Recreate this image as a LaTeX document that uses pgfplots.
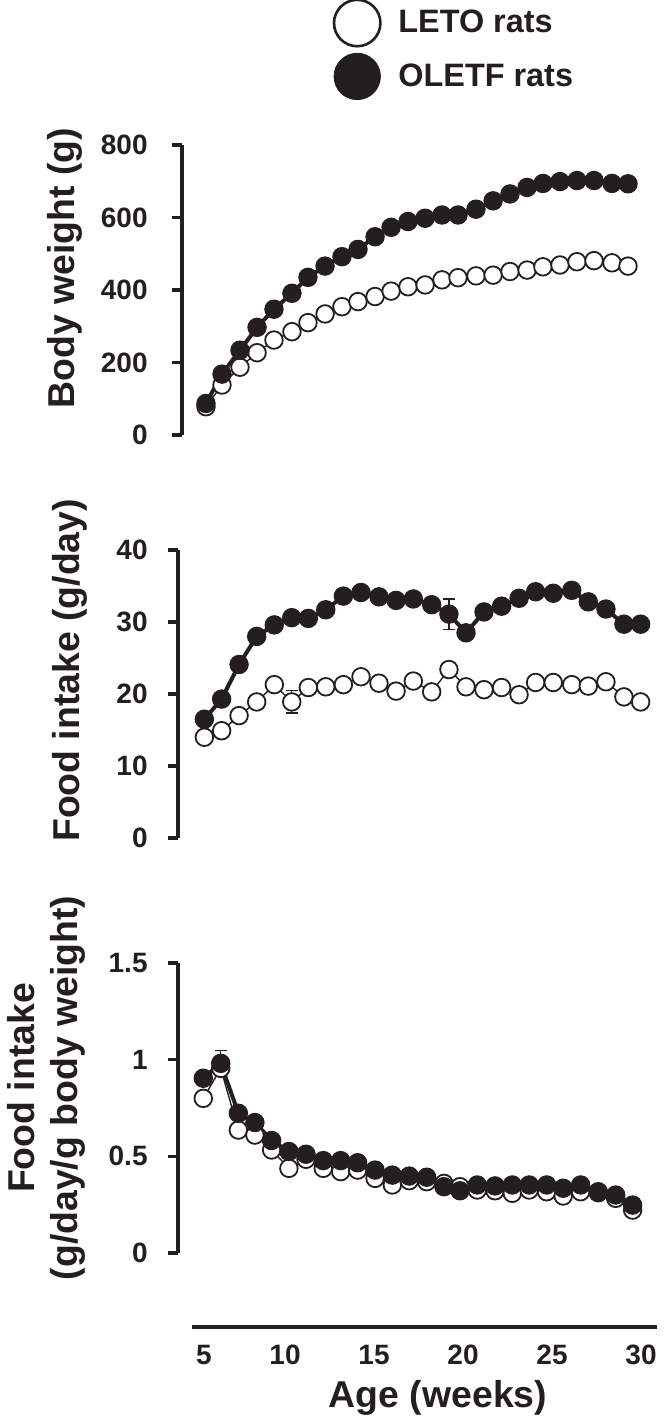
\documentclass[border=0pt]{standalone}
\usepackage{fontspec}
\setmainfont{Liberation Sans}
\usepackage{pgfplots}
\pgfplotsset{compat=1.18}
\definecolor{ink}{RGB}{35,31,32}

\pgfplotsset{
 panel/.style={
  axis y line=left, axis x line=none,
  axis line style={-, line width=1.6pt, color=ink},
  x=8.9pt, xmax=31,
  anchor=south west,
  clip=false,
  tick align=outside,
  major tick length=5pt,
  ytick style={line width=1.6pt, color=ink},
  yticklabel style={font=\fontsize{14}{16}\selectfont\bfseries, text=ink, inner sep=0pt},
  /pgf/number format/assume math mode=true,
  ylabel style={font=\fontsize{18.7}{21.5}\selectfont\bfseries, text=ink, anchor=center, align=center},
 },
 oletf/.style={color=ink, line width=2pt, mark=*, mark size=4.6pt, mark options={fill=ink, draw=ink, line width=0.5pt}},
 leto/.style={color=ink, line width=0.7pt, mark=*, mark size=4.4pt, mark options={fill=white, draw=ink, line width=0.9pt}},
 ebar/.style={draw=none, mark=none, forget plot, error bars/.cd, y dir=both, y explicit, error bar style={line width=0.7pt, color=ink}, error mark options={rotate=90, mark size=3pt, line width=0.7pt, color=ink}},
}

\begin{document}
\begin{tikzpicture}
\useasboundingbox (0pt,0pt) rectangle (334.5pt,-710pt);

% ---------- Panel 1: body weight ----------
\begin{axis}[panel, at={(91pt,-217.5pt)}, xmin=4.213, ymin=0, ymax=800, y=0.18125pt,
  ytick={0,200,400,600,800}, yticklabel style={xshift=-12pt},
  ylabel={Body weight (g)}, ylabel style={at={(axis description cs:-0.245,0.576)}},
  legend style={at={(axis description cs:0.318,1.502)}, anchor=north west, draw=none, fill=none,
    inner sep=0pt, row sep=3.5pt, column sep=7pt, font=\fontsize{16.2}{18}\selectfont\bfseries, text=ink},
  legend cell align=left,
  legend image code/.code={\draw[#1] plot coordinates {(0pt,0pt)};},
]
\addlegendimage{only marks, mark=*, mark size=11.6pt, mark options={fill=white, draw=ink, line width=1.3pt}}
\addlegendentry{LETO rats}
\addlegendimage{only marks, mark=*, mark size=11.6pt, mark options={fill=ink, draw=ink}}
\addlegendentry{OLETF rats}
\addplot[leto, forget plot] coordinates {
(5.56,78)(6.46,138)(7.47,187)(8.43,227)(9.38,262)(10.39,285)(11.29,310)(12.25,334)(13.20,354)(14.10,368)(15.06,382)(15.96,397)(16.91,409)(17.87,414)(18.82,428)(19.72,434)(20.73,439)(21.69,441)(22.64,451)(23.60,455)(24.49,464)(25.45,469)(26.40,478)(27.36,481)(28.37,475)(29.27,466)};
\addplot[oletf, forget plot] coordinates {
(5.56,87)(6.46,168)(7.47,234)(8.43,297)(9.38,347)(10.39,391)(11.29,435)(12.25,466)(13.20,492)(14.10,512)(15.06,547)(15.96,573)(16.91,589)(17.87,598)(18.82,607)(19.72,607)(20.73,623)(21.69,646)(22.64,665)(23.60,683)(24.49,694)(25.45,699)(26.40,702)(27.36,702)(28.37,694)(29.27,693)};
\end{axis}

% ---------- Panel 2: food intake ----------
\begin{axis}[panel, at={(89pt,-419pt)}, xmin=3.989, ymin=0, ymax=40, y=3.6pt,
  ytick={0,10,20,30,40}, yticklabel style={xshift=-10pt},
  ylabel={Food intake (g/day)}, ylabel style={at={(axis description cs:-0.225,0.582)}},
]
\addplot[ebar] coordinates {(10.38,18.9) +- (0,1.55)};
\addplot[ebar] coordinates {(19.21,31.1) +- (0,2.1)};
\addplot[leto] coordinates {
(5.47,14.0)(6.44,14.9)(7.42,17.0)(8.41,18.9)(9.40,21.3)(10.38,18.9)(11.31,20.9)(12.29,21.0)(13.28,21.3)(14.27,22.4)(15.28,21.5)(16.24,20.4)(17.21,21.8)(18.24,20.3)(19.21,23.4)(20.17,21.0)(21.18,20.6)(22.17,20.9)(23.15,19.9)(24.08,21.6)(25.07,21.6)(26.11,21.3)(27.04,21.1)(28.03,21.7)(29.04,19.6)(29.98,18.9)};
\addplot[oletf] coordinates {
(5.47,16.5)(6.44,19.3)(7.42,24.1)(8.41,28.0)(9.40,29.6)(10.38,30.6)(11.31,30.5)(12.29,31.7)(13.28,33.6)(14.27,34.1)(15.28,33.5)(16.24,33.0)(17.21,33.2)(18.24,32.4)(19.21,31.1)(20.17,28.5)(21.18,31.4)(22.17,32.2)(23.15,33.3)(24.08,34.2)(25.07,34.0)(26.11,34.4)(27.04,32.8)(28.03,31.8)(29.04,29.7)(29.98,29.7)};
\end{axis}

% ---------- Panel 3: food intake per body weight ----------
\begin{axis}[panel, at={(89pt,-626.5pt)}, xmin=3.989, ymin=0, ymax=1.5, y=96.667pt,
  ytick={0,0.5,1,1.5}, yticklabel style={xshift=-10pt},
  ylabel={Food intake\\(g/day/g body weight)}, ylabel style={at={(axis description cs:-0.273,0.569)}},
]
\addplot[ebar] coordinates {(6.39,0.981) +- (0,0.066)};
\addplot[leto] coordinates {
(5.41,0.800)(6.39,0.955)(7.38,0.636)(8.31,0.610)(9.25,0.533)(10.22,0.438)(11.18,0.485)(12.15,0.438)(13.13,0.421)(14.08,0.429)(15.06,0.386)(16.03,0.352)(16.98,0.374)(17.96,0.369)(18.93,0.360)(19.83,0.343)(20.80,0.326)(21.80,0.322)(22.77,0.309)(23.72,0.326)(24.70,0.317)(25.63,0.295)(26.61,0.317)(27.60,0.312)(28.58,0.283)(29.53,0.222)};
\addplot[oletf] coordinates {
(5.41,0.904)(6.39,0.981)(7.38,0.723)(8.31,0.675)(9.25,0.582)(10.22,0.525)(11.18,0.511)(12.15,0.478)(13.13,0.478)(14.08,0.467)(15.06,0.429)(16.03,0.403)(16.98,0.398)(17.96,0.392)(18.93,0.343)(19.83,0.322)(20.80,0.352)(21.80,0.347)(22.77,0.352)(23.72,0.352)(24.70,0.352)(25.63,0.335)(26.61,0.352)(27.60,0.317)(28.58,0.300)(29.53,0.248)};
\end{axis}

% ---------- Shared x axis ----------
\begin{axis}[at={(96pt,-663.5pt)}, anchor=south west, x=8.9pt, xmin=4.775, xmax=30.90, ymin=0, ymax=1, y=1pt,
  axis x line=bottom, axis y line=none, axis line style={-, line width=1.6pt, color=ink},
  major tick length=0pt, xtick style={draw=none},
  xtick={5.45,10,15,20,25,30}, xticklabels={5,10,15,20,25,30},
  xticklabel style={font=\fontsize{14}{16}\selectfont\bfseries, text=ink, inner sep=0pt, anchor=north, yshift=-9pt},
  xlabel={Age (weeks)},
  xlabel style={at={(axis description cs:0.529,0)}, anchor=base, yshift=-40pt, font=\fontsize{18.7}{21.5}\selectfont\bfseries, text=ink},
]
\end{axis}
\end{tikzpicture}
\end{document}
